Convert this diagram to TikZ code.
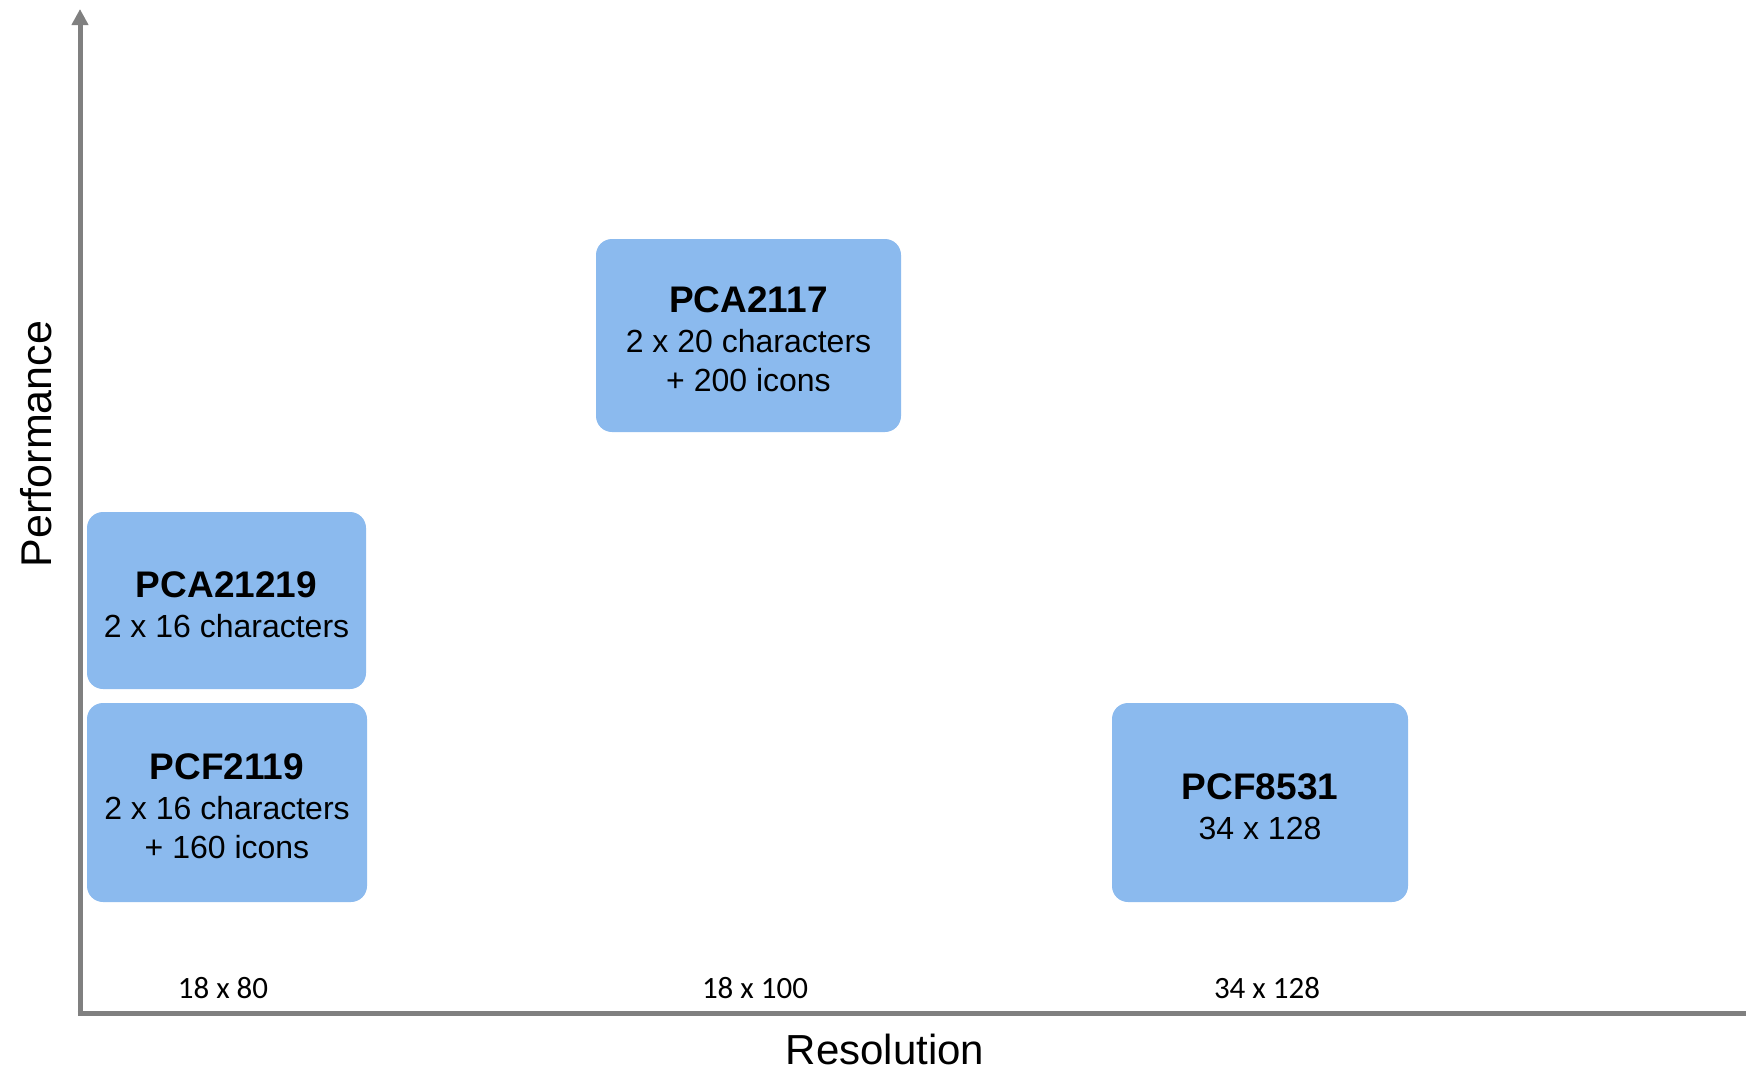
\documentclass[tikz,border=0pt]{standalone}
\usepackage{fontspec}
\setmainfont{Liberation Sans}
\newfontfamily\calibrifont{Carlito}
\usetikzlibrary{arrows.meta}
\definecolor{boxblue}{RGB}{139,186,238}
\definecolor{axisgray}{RGB}{128,128,128}
\tikzset{
  chipbox/.style={fill=boxblue, draw=none, rounded corners=16pt, inner sep=0pt},
  chiptext/.style={inner sep=0pt, align=center, yshift=-4pt,
    font=\fontsize{32}{39.5}\selectfont},
  axisline/.style={draw=axisgray, line width=5pt},
  ticklabel/.style={anchor=base, inner sep=0pt, font=\calibrifont\fontsize{31}{36}\selectfont},
  axislabel/.style={anchor=base, inner sep=0pt, font=\fontsize{42}{48}\selectfont},
}
\newcommand{\chiptitle}[1]{{\fontsize{37}{39.5}\selectfont\bfseries #1}}
\begin{document}
\begin{tikzpicture}[x=1pt,y=-1pt]
\useasboundingbox (0,0) rectangle (1746,1071);
% axes
\coordinate (O) at (80,1013);
\coordinate (ytop) at (80,9);
\coordinate (xstart) at (77.5,1013);
\coordinate (xend) at (1746,1013);
\draw[axisline] (xstart) -- (xend);
\draw[axisline, -{Triangle[width=16pt,length=16pt]}] (O) -- (ytop);
% boxes
\node[chipbox, minimum width=305pt, minimum height=193pt] (pca2117) at (748.5,335.5) {};
\node[chiptext] (pca2117text) at (pca2117.center)
  {\chiptitle{PCA2117}\\2 x 20 characters\\+ 200 icons};
\node[chipbox, minimum width=279pt, minimum height=177pt] (pca21219) at (226.5,600.5) {};
\node[chiptext] (pca21219text) at (pca21219.center)
  {\chiptitle{PCA21219}\\2 x 16 characters};
\node[chipbox, minimum width=280pt, minimum height=199pt] (pcf2119) at (227,802.5) {};
\node[chiptext] (pcf2119text) at (pcf2119.center)
  {\chiptitle{PCF2119}\\2 x 16 characters\\+ 160 icons};
\node[chipbox, minimum width=296pt, minimum height=199pt] (pcf8531) at (1260,802.5) {};
\node[chiptext] (pcf8531text) at (pcf8531.center)
  {\chiptitle{PCF8531}\\34 x 128};
% tick labels
\node[ticklabel] (t1) at (223,998) {18 x 80};
\node[ticklabel] (t2) at (755,998) {18 x 100};
\node[ticklabel] (t3) at (1267,998) {34 x 128};
% axis labels
\node[axislabel] (xlab) at (885,1064) {Resolution};
\node[axislabel, rotate=90, font=\fontsize{43}{48}\selectfont] (ylab) at (51,444) {Performance};
\end{tikzpicture}
\end{document}
